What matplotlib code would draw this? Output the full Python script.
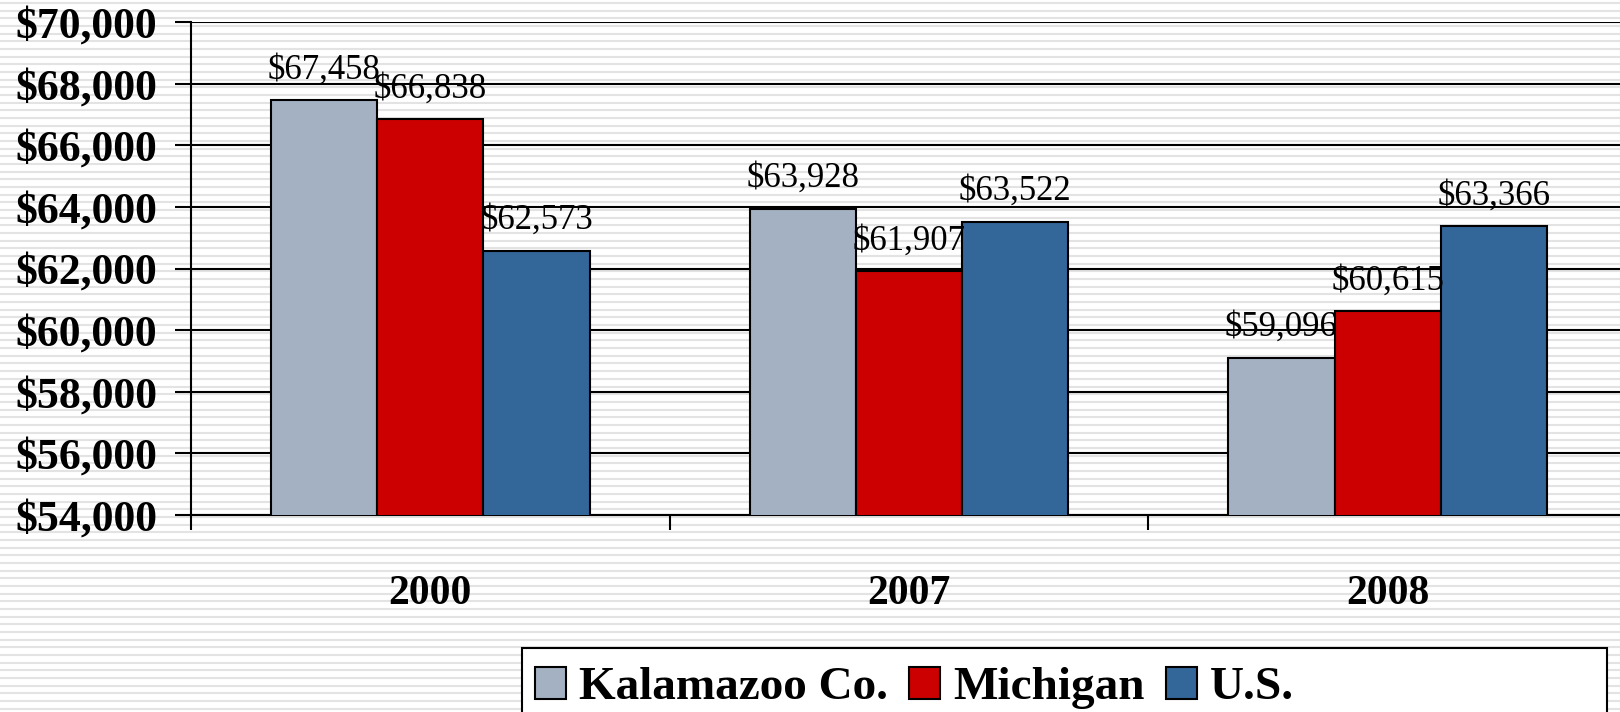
import matplotlib
matplotlib.use("Agg")
import matplotlib.pyplot as plt
from matplotlib.patches import Rectangle
import numpy as np

# data
years = ["2000", "2007", "2008"]
series_names = ["Kalamazoo Co.", "Michigan", "U.S."]
kalamazoo = [67458, 63928, 59096]
michigan = [66838, 61907, 60615]
us = [62573, 63522, 63366]
colors = ["#A3B1C2", "#CC0000", "#336699"]

plt.rcParams['font.family'] = ['Liberation Serif', 'DejaVu Serif']

W, H = 1620, 712
fig = plt.figure(figsize=(W / 100, H / 100), dpi=100)
fig.patch.set_facecolor("white")

# striped background
bg = fig.add_axes([0, 0, 1, 1], zorder=-10)
bg.set_xlim(0, W)
bg.set_ylim(H, 0)
bg.axis("off")
bg.hlines(np.arange(3, H, 7.67), 0, W, color="#e3e3e3", linewidth=1.5)
# legend box (excel style, wider than its content)
bg.add_patch(Rectangle((522, 648), 1607 - 522, 80, facecolor="white",
                       edgecolor="black", linewidth=1.5, zorder=5))

ax = fig.add_axes([191 / W, 1 - 515 / H, (1627 - 191) / W, (515 - 22) / H])
ax.patch.set_alpha(0)

x = np.arange(len(years))
bw = 0.222
for i, (vals, name) in enumerate(zip([kalamazoo, michigan, us], series_names)):
    pos = x + (i - 1) * bw
    bars = ax.bar(pos, vals, width=bw, color=colors[i], edgecolor="black",
                  linewidth=1.5, label=name, zorder=3)
    for xp, v in zip(pos, vals):
        ax.annotate("${:,}".format(v), (xp, v), xytext=(0, 10),
                    textcoords="offset points", ha="center", va="bottom",
                    fontsize=25, zorder=5)

ax.set_ylim(54000, 70000)
ax.set_yticks(np.arange(54000, 70001, 2000))
ax.set_yticklabels(["${:,}".format(t) for t in range(54000, 70001, 2000)],
                   fontsize=31.5, fontweight="bold")
ax.yaxis.grid(True, color="black", linewidth=1.5, zorder=0)
ax.set_axisbelow(True)

ax.set_xlim(-0.5, 2.5)
ax.set_xticks([-0.5, 0.5, 1.5, 2.5])
ax.set_xticklabels([])
ax.set_xticks(x, minor=True)
ax.set_xticklabels(years, minor=True, fontsize=30, fontweight="bold")
ax.tick_params(axis="x", which="minor", length=0, pad=43)
ax.tick_params(axis="x", which="major", length=11, width=1.5, direction="out")
ax.tick_params(axis="y", length=11.5, width=1.5, direction="out", pad=13)

for s in ["top", "right"]:
    ax.spines[s].set_visible(False)
for s in ["left", "bottom"]:
    ax.spines[s].set_linewidth(1.5)

leg = fig.legend(loc="center left", bbox_to_anchor=(535 / W, 1 - 688 / H),
                 ncol=3, frameon=False, prop={"size": 34, "weight": "bold"},
                 handlelength=0.66, handleheight=0.66, handletextpad=0.28,
                 columnspacing=0.44, borderpad=0, borderaxespad=0)

fig.savefig("out.png", dpi=100)
